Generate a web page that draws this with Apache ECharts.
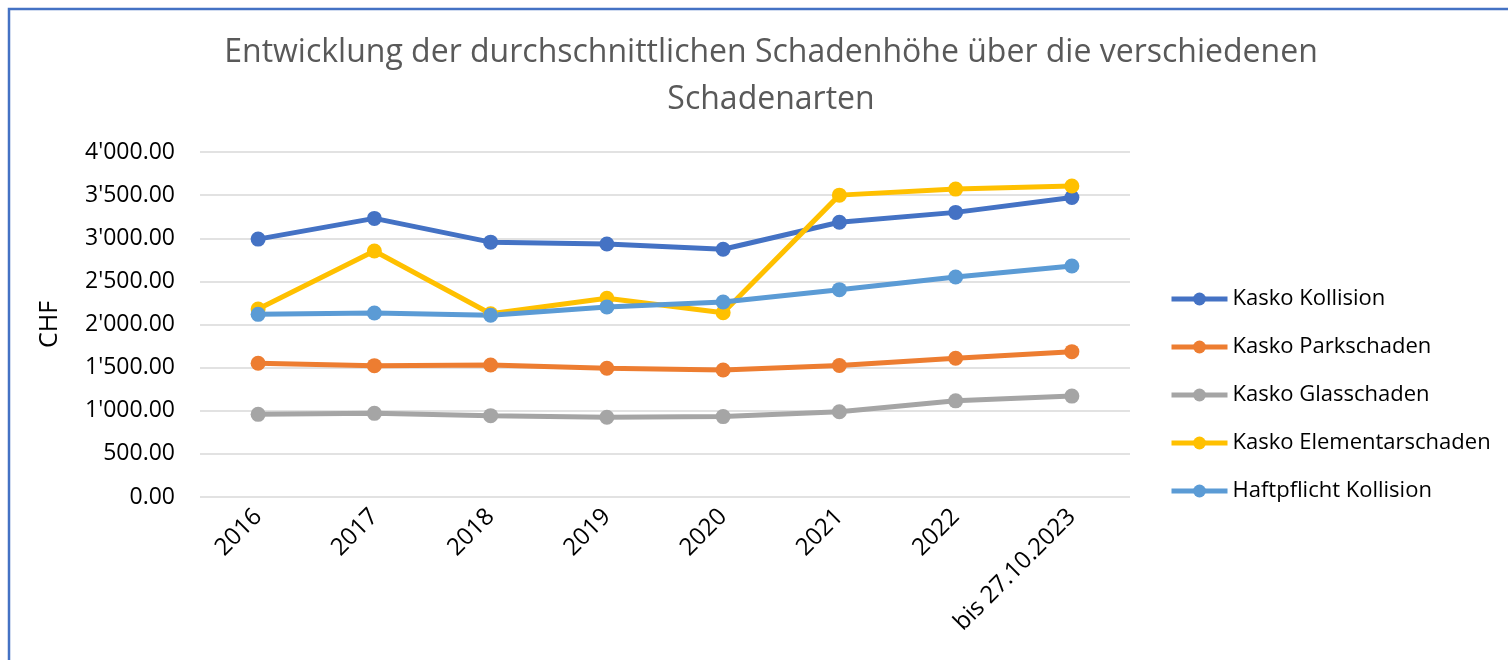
<!DOCTYPE html>
<html><head><meta charset="utf-8">
<script src="https://cdn.jsdelivr.net/npm/echarts@6/dist/echarts.min.js"></script>
<style>html,body{margin:0;padding:0;background:#fff}#c{width:1508px;height:660px}</style>
</head><body><div id="c"></div>
<script>
const categories = ['2016','2017','2018','2019','2020','2021','2022','bis 27.10.2023'];
const kaskoKollision = [2990, 3230, 2955, 2933, 2872, 3185, 3300, 3472];
const kaskoParkschaden = [1550, 1523, 1530, 1492, 1472, 1525, 1608, 1685];
const kaskoGlasschaden = [958, 970, 943, 924, 932, 988, 1115, 1170];
const kaskoElementarschaden = [2180, 2852, 2125, 2305, 2137, 3500, 3570, 3606];
const haftpflichtKollision = [2118, 2133, 2107, 2203, 2261, 2404, 2550, 2678];
const seriesNames = ['Kasko Kollision','Kasko Parkschaden','Kasko Glasschaden','Kasko Elementarschaden','Haftpflicht Kollision'];
const seriesData = [kaskoKollision, kaskoParkschaden, kaskoGlasschaden, kaskoElementarschaden, haftpflichtKollision];
const colors = ['#4472C4','#ED7D31','#A5A5A5','#FFC000','#5B9BD5'];
const FONT = 'Open Sans';
function fmt(v){
  const s = v.toFixed(2); const parts = s.split('.');
  return parts[0].replace(/\B(?=(\d{3})+(?!\d))/g, "'") + '.' + parts[1];
}
const chart = echarts.init(document.getElementById('c'));
chart.setOption({
  animation: false,
  color: colors,
  title: {
    text: 'Entwicklung der durchschnittlichen Schadenhöhe über die verschiedenen\nSchadenarten',
    left: 766, top: 24, textAlign: 'center',
    textStyle: { fontFamily: FONT, fontSize: 32, fontWeight: 'normal', color: '#595959', lineHeight: 47 }
  },
  graphic: [{ type: 'rect', shape: { x: 9, y: 9, width: 1600, height: 800 }, style: { fill: 'none', stroke: '#4472C4', lineWidth: 2.5 }, silent: true }],
  legend: {
    orient: 'vertical', left: 1164, top: 282, itemGap: 24, itemWidth: 56, itemHeight: 16,
    lineStyle: { width: 5 },
    textStyle: { fontFamily: FONT, fontSize: 22, lineHeight: 24, color: '#000' },
    data: seriesNames
  },
  grid: { left: 200, right: 378, top: 152, bottom: 163 },
  xAxis: {
    type: 'category', data: categories, boundaryGap: true,
    axisLine: { show: false }, axisTick: { show: false },
    axisLabel: { rotate: 45, margin: 16, interval: 0, fontFamily: FONT, fontSize: 24, color: '#000' }
  },
  yAxis: {
    type: 'value', min: 0, max: 4000, interval: 500,
    name: 'CHF', nameLocation: 'middle', nameGap: 138, nameRotate: 90,
    nameTextStyle: { fontFamily: FONT, fontSize: 25, color: '#000' },
    axisLine: { show: false }, axisTick: { show: false },
    splitLine: { lineStyle: { color: '#D9D9D9', width: 1.5 } },
    axisLabel: { formatter: fmt, margin: 25, fontFamily: FONT, fontSize: 23, color: '#000' }
  },
  series: seriesNames.map((n, i) => ({
    name: n, type: 'line', data: seriesData[i],
    symbol: 'circle', symbolSize: 15,
    lineStyle: { width: 5, color: colors[i] },
    itemStyle: { color: colors[i] }
  }))
});
</script></body></html>
